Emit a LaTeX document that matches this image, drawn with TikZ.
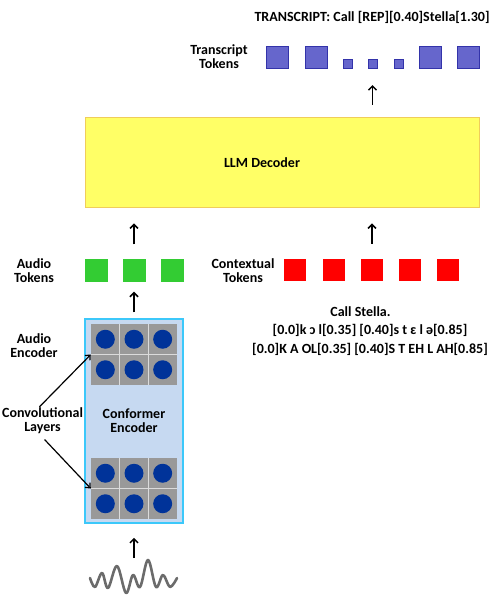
\documentclass[tikz,border=0pt]{standalone}
\usepackage{fontspec}
\setmainfont{Carlito}
\usetikzlibrary{arrows.meta}
\usetikzlibrary{calc}
\definecolor{decfill}{RGB}{255,255,102}
\definecolor{decline}{RGB}{240,205,90}
\definecolor{encfill}{RGB}{198,217,241}
\definecolor{encline}{RGB}{60,200,250}
\definecolor{gridfill}{RGB}{153,153,153}
\colorlet{gridline}{white!65!gridfill}
\definecolor{dotcol}{RGB}{0,51,153}
\definecolor{audcol}{RGB}{51,204,51}
\definecolor{ctxcol}{RGB}{255,0,0}
\definecolor{trfill}{RGB}{102,102,204}
\definecolor{trline}{RGB}{51,51,170}
\colorlet{wavecol}{black!58}
\tikzstyle{tok}=[rectangle,inner sep=0,minimum size=23]
\tikzstyle{upflow}=[line width=1.5,-{Straight Barb[length=4,width=8]}]
\tikzstyle{pointer}=[line width=1.2,-{Straight Barb[length=4,width=7]}]
\tikzset{
  lbl/.style={font=\bfseries\fontsize{14}{14}\selectfont,align=center,inner sep=1},
  trtok/.style={tok,anchor=south,fill=trfill,draw=trline,line width=0.8},
  decoder/.style={rectangle,fill=decfill,draw=decline,line width=0.8,
                  minimum width=394,minimum height=90},
  encoder/.style={lbl,rectangle,fill=encfill,draw=encline,line width=1.5,
                  minimum width=98,minimum height=204},
  grid/.style={rectangle,fill=gridfill,inner sep=0,minimum width=86,minimum height=61},
  wave/.style={wavecol,line width=2.6,line cap=round,line join=round}}

\begin{document}
\begin{tikzpicture}[x=1pt,y=-1pt]
  \useasboundingbox (0,0) rectangle (501,606);
  \def\cw{28.67} % cell width
  \def\ch{30.5}  % cell height

  % DECODER
  \node[decoder] (dec) at (282,162) {};
  \node[lbl] (dectxt) at (262,163) {LLM Decoder};

  % TRANSCRIPT
  \node[lbl] (title) at (372,17) {TRANSCRIPT: Call [REP][0.40]Stella[1.30]};
  \node[lbl] (trlbl) at (219,57) {Transcript\\Tokens};
  \foreach \x/\s [count=\i] in {277/22,316/22,347.5/9,372.5/9,398.5/9,430/22,468/22}
    \node[trtok,minimum size=\s] (tt\i) at (\x,69) {};

  % AUDIO TOKENS
  \node[lbl] (atlbl) at (34,271) {Audio\\Tokens};
  \foreach \x [count=\i] in {96,134,172}
    \node[tok,fill=audcol] (at\i) at (\x,270) {};

  % CONTEXT TOKENS
  \node[lbl] (ctlbl) at (243,271) {Contextual\\Tokens};
  \foreach \x [count=\i] in {295,334,372,410,448}
    \node[tok,fill=ctxcol,minimum size=22] (ct\i) at (\x,270) {};
  \node[lbl,font=\bfseries\fontsize{14}{18.5}\selectfont] (phon) at (370,331)
    {Call Stella.\hspace*{19pt}\\
     {[0.0]}k ɔ l[0.35] [0.40]s t ɛ l ə[0.85]\\
     {[0.0]}K A OL[0.35] [0.40]S T EH L AH[0.85]};

  % ENCODER
  \node[encoder] (enc) at (134,421) {Conformer\\Encoder};
  \foreach \g/\y in {1/354.5,2/488.5}{
    \node[grid] (grid\g) at (134,\y) {};
    \foreach \c in {1,2}
      \draw[gridline,line width=0.8] ($(grid\g.north west)!\c/3!(grid\g.north east)$)
        -- ($(grid\g.south west)!\c/3!(grid\g.south east)$);
    \draw[gridline,line width=0.8] (grid\g.west) -- (grid\g.east);
    \foreach \cx in {-1,0,1}
      \foreach \cy in {-0.5,0.5}
        \fill[dotcol] ($(grid\g)+(\cx*\cw,\cy*\ch)$) circle (9.5);
  }
  \node[lbl] (aelbl) at (34,346) {Audio\\Encoder};
  \node[lbl] (convlbl) at (42.5,421) {Convolutional\\Layers};
  \draw[pointer] ([xshift=-3]convlbl.north) -- (grid1.west);
  \draw[pointer,shorten <=6] ([xshift=-2]convlbl.south) -- (grid2.west);

  % WAVE
  \draw[wave] plot[smooth,tension=0.6] coordinates {(90,578) (95,587) (102,573)
    (108,588) (117,566) (126,593) (133,575) (140,587) (148,560) (156,587)
    (163,575) (170,587) (177,578)};
  \coordinate (wavetop) at (134,558);

  % FLOW
  \draw[upflow,shorten >=14] (wavetop) -- (enc.south);
  \draw[upflow,shorten <=6,shorten >=10] (enc.north) -- (at2.south);
  \draw[upflow,shorten <=14,shorten >=16] (at2.north) -- (at2.north |- dec.south);
  \draw[upflow,shorten <=15,shorten >=16] (ct3.north) -- (ct3.north |- dec.south);
  \draw[upflow,shorten <=12,shorten >=16] (tt4.south |- dec.north) -- (tt4.south);
\end{tikzpicture}
\end{document}
